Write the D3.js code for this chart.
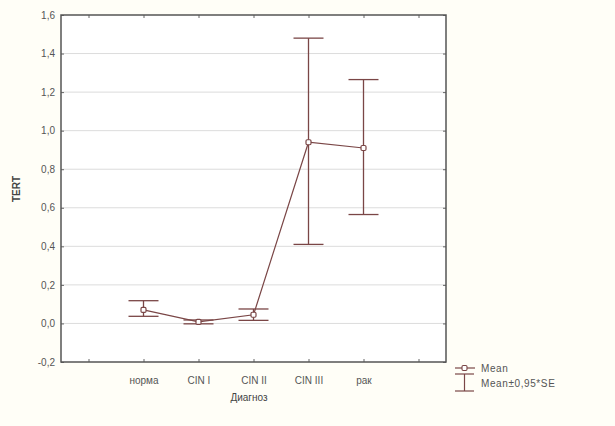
<!DOCTYPE html>
<html><head><meta charset="utf-8">
<script src="https://cdn.jsdelivr.net/npm/d3@7/dist/d3.min.js"></script>
<style>
body{margin:0;background:#fffef7;}
svg{display:block;}
text{font-family:Arial,"Liberation Sans",sans-serif;}
</style></head>
<body><svg id="c" width="615" height="426"></svg>
<script>
const categories = ["норма", "CIN I", "CIN II", "CIN III", "рак"];
const means = [0.07, 0.008, 0.045, 0.94, 0.91];
const lower = [0.037, -0.002, 0.016, 0.41, 0.565];
const upper = [0.118, 0.018, 0.075, 1.48, 1.265];
const yTicks = [-0.2, 0, 0.2, 0.4, 0.6, 0.8, 1.0, 1.2, 1.4, 1.6];

const svg = d3.select("#c");
const L = 61, T = 15, R = 446, B = 362;
const col = "#7a4646";

const slots = ["_a", ...categories, "_b"];
const x = d3.scalePoint().domain(slots).range([L, R]).padding(0.5);
const y = d3.scaleLinear().domain([-0.2, 1.6]).range([B, T]);

svg.append("rect").attr("x", L).attr("y", T).attr("width", R - L).attr("height", B - T).attr("fill", "#fff");

// gridlines
svg.append("g").selectAll("line").data(yTicks.slice(1, -1)).join("line")
  .attr("x1", L).attr("x2", R).attr("y1", d => y(d)).attr("y2", d => y(d))
  .attr("stroke", "#dcdcdc").attr("stroke-width", 1);

const fmt = d => d3.format(".1f")(d).replace(".", ",").replace("−", "-");

// axes
const axL = d3.axisLeft(y).tickValues(yTicks).tickSize(-3).tickPadding(6).tickFormat(fmt);
const axR = d3.axisRight(y).tickValues(yTicks).tickSize(-3).tickFormat("");
const axB = d3.axisBottom(x).tickSize(-3).tickPadding(15).tickFormat(d => d.startsWith("_") ? "" : d);
const axT = d3.axisTop(x).tickSize(-3).tickFormat("");
function style(g) {
  g.select(".domain").remove();
  g.selectAll(".tick line").attr("stroke", "#666");
  g.selectAll("text").attr("fill", "#555").attr("font-size", 10);
}
svg.append("g").attr("transform", `translate(${L},0)`).call(axL).call(style);
svg.append("g").attr("transform", `translate(${R},0)`).call(axR).call(style);
svg.append("g").attr("transform", `translate(0,${B})`).call(axB).call(style);
svg.append("g").attr("transform", `translate(0,${T})`).call(axT).call(style);

svg.append("rect").attr("x", L).attr("y", T).attr("width", R - L).attr("height", B - T)
  .attr("fill", "none").attr("stroke", "#555").attr("stroke-width", 1.5);

// error bars
const data = categories.map((c, i) => ({c, m: means[i], lo: lower[i], hi: upper[i]}));
const cap = 15;
const eb = svg.append("g").attr("stroke", col).attr("stroke-width", 1.3);
data.forEach(d => {
  const cx = x(d.c);
  eb.append("line").attr("x1", cx).attr("x2", cx).attr("y1", y(d.lo)).attr("y2", y(d.hi));
  eb.append("line").attr("x1", cx - cap).attr("x2", cx + cap).attr("y1", y(d.lo)).attr("y2", y(d.lo));
  eb.append("line").attr("x1", cx - cap).attr("x2", cx + cap).attr("y1", y(d.hi)).attr("y2", y(d.hi));
});

// mean line
svg.append("path").datum(data)
  .attr("d", d3.line().x(d => x(d.c)).y(d => y(d.m)))
  .attr("fill", "none").attr("stroke", col).attr("stroke-width", 1.2);
svg.append("g").selectAll("rect").data(data).join("rect")
  .attr("x", d => x(d.c) - 2.5).attr("y", d => y(d.m) - 2.5).attr("width", 5).attr("height", 5)
  .attr("rx", 1.2).attr("fill", "#fff").attr("stroke", col).attr("stroke-width", 1.2);

// axis titles
svg.append("text").attr("transform", "translate(20,189) rotate(-90)").attr("text-anchor", "middle")
  .attr("font-size", 10).attr("font-weight", "bold").attr("fill", "#444").text("TERT");
svg.append("text").attr("x", 249).attr("y", 401).attr("text-anchor", "middle")
  .attr("font-size", 10).attr("fill", "#444").text("Диагноз");

// legend
const lg = svg.append("g");
lg.append("line").attr("x1", 455).attr("x2", 475).attr("y1", 368).attr("y2", 368).attr("stroke", col).attr("stroke-width", 1.2);
lg.append("rect").attr("x", 462).attr("y", 365.5).attr("width", 5).attr("height", 5).attr("rx", 1.2)
  .attr("fill", "#fff").attr("stroke", col).attr("stroke-width", 1.1);
lg.append("text").attr("x", 481).attr("y", 372).attr("font-size", 10).attr("fill", "#555").attr("letter-spacing", 0.6).text("Mean");
lg.append("line").attr("x1", 455).attr("x2", 474).attr("y1", 374).attr("y2", 374).attr("stroke", col).attr("stroke-width", 1.2);
lg.append("line").attr("x1", 455).attr("x2", 474).attr("y1", 391).attr("y2", 391).attr("stroke", col).attr("stroke-width", 1.2);
lg.append("line").attr("x1", 464.5).attr("x2", 464.5).attr("y1", 374).attr("y2", 391).attr("stroke", col).attr("stroke-width", 1.2);
lg.append("text").attr("x", 481).attr("y", 387).attr("font-size", 10).attr("fill", "#555").attr("letter-spacing", 0.6).text("Mean±0,95*SE");
</script></body></html>
